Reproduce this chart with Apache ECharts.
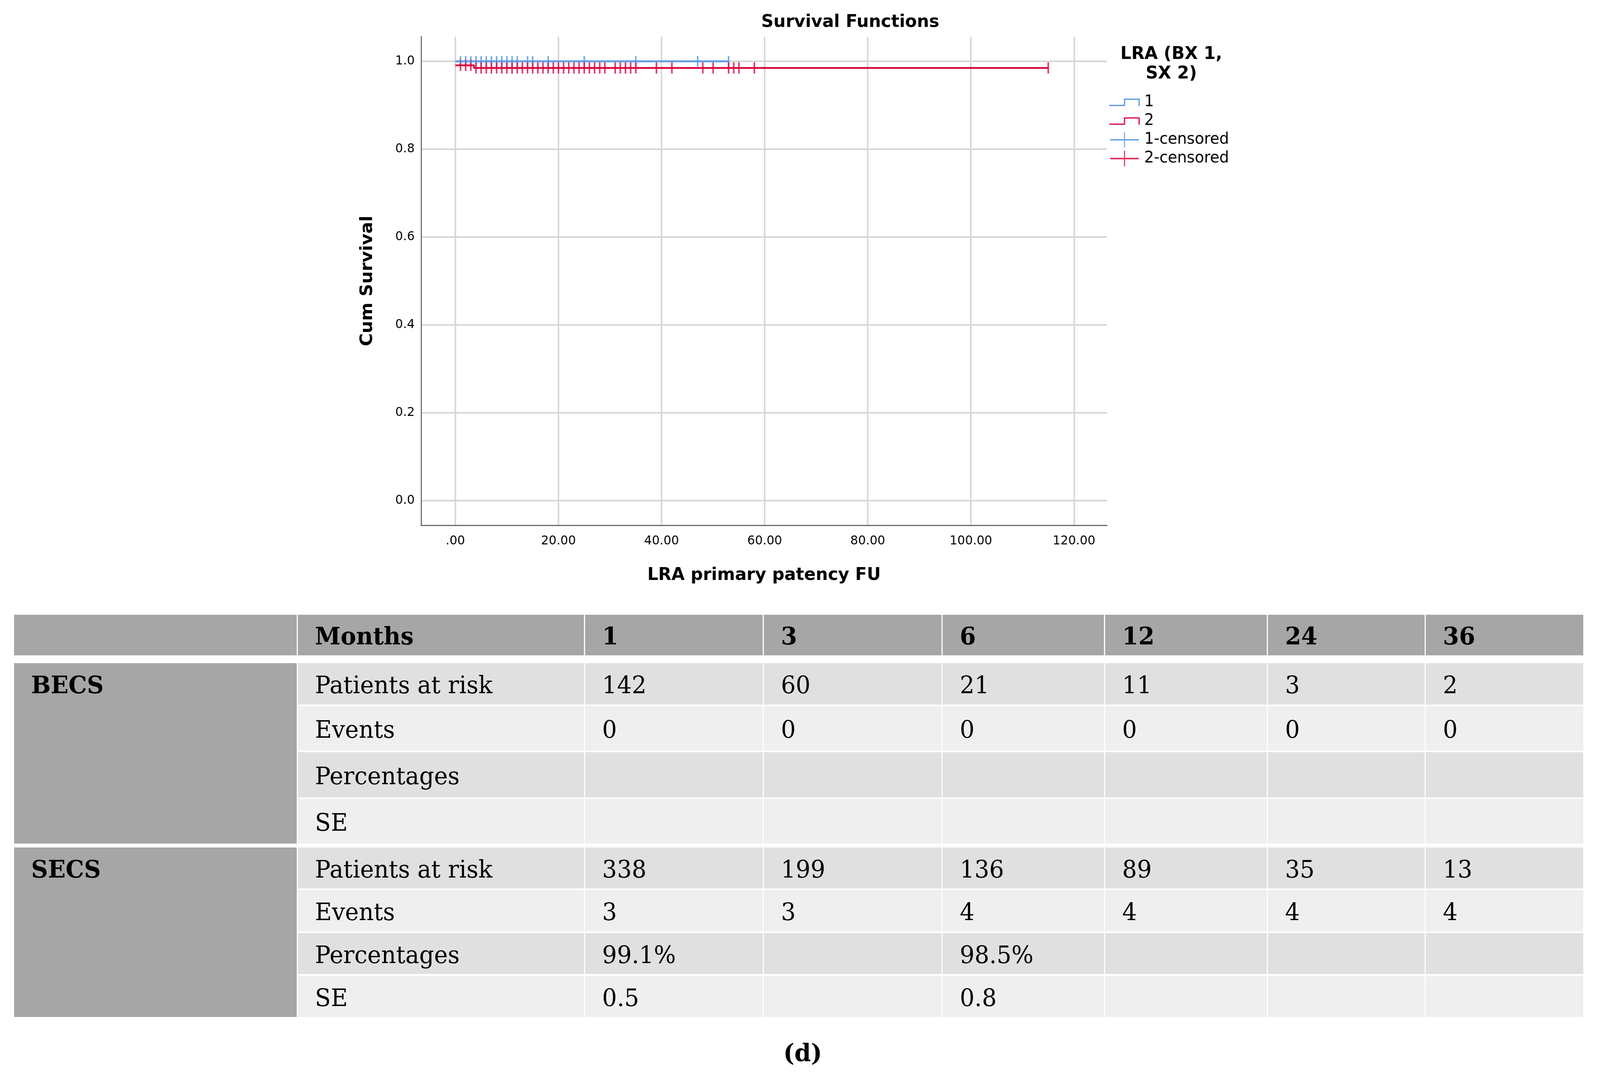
<!DOCTYPE html>
<html><head><meta charset="utf-8">
<script src="https://cdn.jsdelivr.net/npm/echarts@6/dist/echarts.min.js"></script>
<style>
html,body{margin:0;padding:0;background:#fff;overflow:hidden}
#page{position:absolute;left:0;top:0;width:4206px;height:2750px;transform-origin:0 0;background:#fff}
#chart{position:absolute;left:0;top:0;width:4206px;height:1560px}
.cell{position:absolute;box-sizing:border-box;padding-left:45px;font-family:'DejaVu Serif',serif;font-size:61px;color:#000;white-space:nowrap;overflow:hidden}
.b{font-weight:bold}
#cap{position:absolute;left:2110px;top:2656px;transform:translateX(-50%);font-family:'DejaVu Serif',serif;font-weight:bold;font-size:62px;line-height:80px}
</style></head><body>
<div id="page">
<div id="chart"></div>
<div id="table"></div>
<div id="cap">(d)</div>
</div>
<script>
// ---- chart data ----
const xTicks = [0, 20, 40, 60, 80, 100, 120];
const yTicks = [0, 0.2, 0.4, 0.6, 0.8, 1.0];
// group 1 (BX): step survival estimates
const g1EventTimes = [0];
const g1Survival = [1.0];
const g1EndTime = 53;
const g1Censored = [1,2,3,4,5,6,7,8,9,10,11,12,14,15,18,25,35,47,53];
// group 2 (SX)
const g2EventTimes = [0, 3.6];
const g2Survival = [0.991, 0.985];
const g2EndTime = 115;
const g2Censored = [1,2,3,4,5,6,7,8,9,10,11,12,13,14,15,16,17,18,19,20,21,22,23,24,25,26,27,28,29,31,32,33,34,35,39,42,48,50,53,54,55,58,115];

// ---- table data ----
const months = ['1','3','6','12','24','36'];
const rowLabels = ['Patients at risk','Events','Percentages','SE'];
const becsAtRisk = [142,60,21,11,3,2];
const becsEvents = [0,0,0,0,0,0];
const becsPercent = ['','','','','',''];
const becsSE = ['','','','','',''];
const secsAtRisk = [338,199,136,89,35,13];
const secsEvents = [3,3,4,4,4,4];
const secsPercent = ['99.1%','','98.5%','','',''];
const secsSE = ['0.5','','0.8','','',''];

function stepData(times, surv, end){
  const d = times.map((t,i)=>[t, surv[i]]);
  d.push([end, surv[surv.length-1]]);
  return d;
}
function survAt(times, surv, t){
  let s = surv[0];
  for (let i=0;i<times.length;i++){ if (times[i] <= t) s = surv[i]; }
  return s;
}
const BLUE = '#4f93e3', RED = '#d8003b';
const stepIcon = 'path://M0,16 L38,16 L38,0 L79,0 L79,19 L76,19 L76,3 L41,3 L41,19 L0,19 Z';
const plusIcon = 'path://M0,19 L38,19 L38,0 L41,0 L41,19 L79,19 L79,23 L41,23 L41,42 L38,42 L38,23 L0,23 Z';

const chart = echarts.init(document.getElementById('chart'), null, {renderer:'canvas'});
const F = 'DejaVu Sans';
chart.setOption({
  animation:false,
  backgroundColor:'#fff',
  title:{text:'Survival Functions', left:2230, top:30, textAlign:'center',
    textStyle:{fontFamily:F, fontWeight:'bold', fontSize:45, color:'#000'}},
  graphic:[{type:'text', x:3079, y:114, style:{text:'LRA (BX 1,\nSX 2)', textAlign:'center',
    fontFamily:F, fontWeight:'bold', fontSize:45, lineHeight:50, fill:'#000'}}],
  legend:{orient:'vertical', left:2916, top:242, itemWidth:80, itemHeight:40, itemGap:8, padding:0,
    selectedMode:false, itemStyle:{borderWidth:0},
    textStyle:{fontFamily:F, fontSize:40, color:'#000', padding:[0,0,0,7]},
    data:[{name:'1', icon:stepIcon},{name:'2', icon:stepIcon},{name:'1-censored', icon:plusIcon},{name:'2-censored', icon:plusIcon}]},
  grid:{left:1107, right:4206-2910, top:94, bottom:1560-1345, containLabel:false, outerBoundsMode:'none'},
  xAxis:{type:'value', min:-6.64, max:126.4,
    name:'LRA primary patency FU', nameLocation:'middle', nameGap:106,
    nameTextStyle:{fontFamily:F, fontWeight:'bold', fontSize:45, color:'#000'},
    axisLine:{onZero:false, lineStyle:{color:'#6b6b6b', width:3}},
    axisTick:{show:false, customValues:xTicks},
    axisLabel:{customValues:xTicks, margin:25, fontFamily:F, fontSize:32, color:'#000',
      formatter:v=> v===0 ? '.00' : v.toFixed(2)},
    splitLine:{show:true, lineStyle:{color:'#d6d6d6', width:4}}},
  yAxis:{type:'value', min:-0.056, max:1.056,
    name:'Cum Survival', nameLocation:'middle', nameGap:118,
    nameTextStyle:{fontFamily:F, fontWeight:'bold', fontSize:45, color:'#000'},
    axisLine:{show:true, onZero:false, lineStyle:{color:'#6b6b6b', width:3}},
    axisTick:{show:false, customValues:yTicks},
    axisLabel:{customValues:yTicks, margin:17, fontFamily:F, fontSize:32, color:'#000',
      formatter:v=> v.toFixed(1)},
    splitLine:{show:true, lineStyle:{color:'#d6d6d6', width:4}}},
  series:[
    {name:'1', type:'line', step:'end', showSymbol:false, symbol:'none', color:BLUE,
      lineStyle:{color:BLUE, width:5, opacity:0.85}, data:stepData(g1EventTimes,g1Survival,g1EndTime)},
    {name:'1-censored', type:'scatter', symbol:'rect', symbolSize:[4,27], color:BLUE,
      itemStyle:{color:BLUE}, data:g1Censored.map(t=>[t, survAt(g1EventTimes,g1Survival,t)])},
    {name:'2', type:'line', step:'end', showSymbol:false, symbol:'none', color:RED,
      lineStyle:{color:RED, width:4.5}, data:stepData(g2EventTimes,g2Survival,g2EndTime)},
    {name:'2-censored', type:'scatter', symbol:'rect', symbolSize:[4,29], color:RED,
      itemStyle:{color:RED}, data:g2Censored.map(t=>[t, survAt(g2EventTimes,g2Survival,t)])}
  ]
});

// ---- table ----
const tbl = document.getElementById('table');
const colEdges = [37, 781, 1536, 2006, 2476, 2903, 3331, 3746, 4162];
function cell(c0, c1, top, bottom, text, bg, bold){
  const d = document.createElement('div');
  d.className = 'cell' + (bold ? ' b' : '');
  const l = colEdges[c0] + (c0 === 0 ? 0 : 2);
  const r = colEdges[c1] - (c1 === colEdges.length-1 ? 0 : 1);
  d.style.left = l + 'px'; d.style.width = (r - l) + 'px';
  d.style.top = top + 'px'; d.style.height = (bottom - top) + 'px';
  d.style.lineHeight = (bottom - top + 6) + 'px';
  d.style.background = bg;
  d.textContent = text;
  tbl.appendChild(d);
}
const HEAD = '#a6a6a6', ODD = '#e0e0e0', EVEN = '#efefef';
cell(0,1,1574,1678,'',HEAD,true);
cell(1,2,1574,1678,'Months',HEAD,true);
months.forEach((m,i)=>cell(i+2,i+3,1574,1678,m,HEAD,true));
function block(name, rows, values){
  cell(0,1,rows[0][0],rows[3][1],'',HEAD,true);
  cell(0,1,rows[0][0],rows[0][1],name,'transparent',true);
  rows.forEach((rw,ri)=>{
    const bg = ri % 2 === 0 ? ODD : EVEN;
    cell(1,2,rw[0],rw[1],rowLabels[ri],bg,false);
    values[ri].forEach((v,ci)=>cell(ci+2,ci+3,rw[0],rw[1],String(v),bg,false));
  });
}
block('BECS', [[1698,1804],[1808,1922],[1926,2042],[2046,2160]], [becsAtRisk,becsEvents,becsPercent,becsSE]);
block('SECS', [[2170,2275],[2279,2385],[2389,2494],[2499,2604]], [secsAtRisk,secsEvents,secsPercent,secsSE]);

// fit the 4206x2750 page into the actual viewport
const sx = window.innerWidth / 4206, sy = window.innerHeight / 2750;
if (Math.abs(sx - 1) > 0.002 || Math.abs(sy - 1) > 0.002) {
  document.getElementById('page').style.transform = 'scale(' + sx + ',' + sy + ')';
}
</script>
</body></html>
